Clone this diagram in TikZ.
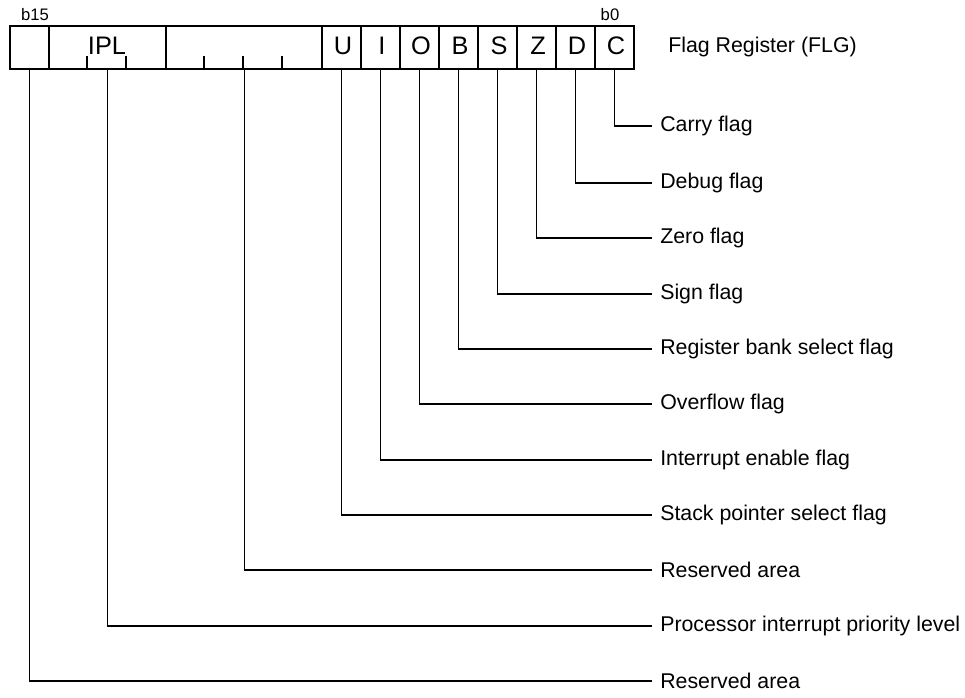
\documentclass[tikz,border=0pt]{standalone}
\usepackage{fontspec}
\setmainfont{Liberation Sans}

\tikzset{
  regcell/.style={draw, line width=1.6pt, anchor=north west, inner sep=0pt,
    minimum height=32.25pt},
  celltxt/.style={inner sep=0pt, font=\fontsize{19}{21}\selectfont},
  flagtxt/.style={anchor=west, inner xsep=6pt, inner ysep=0pt,
    font=\fontsize{16}{18}\selectfont},
  bitno/.style={inner sep=0pt, font=\fontsize{12.5}{14}\selectfont},
  leader/.style={line width=0.8pt}
}

\begin{document}
\begin{tikzpicture}[x=0.75pt,y=-0.75pt]
  \useasboundingbox (0,0) rectangle (965,697);

  % register fields
  \node[regcell, minimum width=29.25pt] (r15) at (9,25) {};
  \node[regcell, minimum width=87.75pt] (ipl) at (48,25) {};
  \node[celltxt] (ipltxt) at (107,46) {IPL};
  \node[regcell, minimum width=117pt] (r8) at (165,25) {};
  \foreach \lbl [count=\k from 8] in {U,I,O,B,S,Z,D,C}
  {
    \node[regcell, minimum width=29.25pt] (f\lbl) at ({9+\k*39},25) {};
    \node[celltxt] (t\lbl) at ({31+\k*39},46) {\lbl};
  }

  % bit boundaries inside the multi-bit fields
  \foreach \k in {2,3,5,6,7}
    \draw[line width=0.8pt] ({9+\k*39},68) -- ({9+\k*39},56);

  \node[bitno] (b15) at (35,15) {b15};
  \node[bitno] (b0) at (610,15) {b0};
  \node[flagtxt, inner xsep=0pt] (title) at (668,47) {Flag Register (FLG)};

  % flag descriptions
  \foreach \name/\txt/\yy in {fC/Carry flag/126, fD/Debug flag/183,
      fZ/Zero flag/238, fS/Sign flag/294, fB/Register bank select flag/349,
      fO/Overflow flag/404, fI/Interrupt enable flag/460,
      fU/Stack pointer select flag/515, r8/Reserved area/570,
      ipl/Processor interrupt priority level/626, r15/Reserved area/681}
  {
    \node[flagtxt] (l\name) at (652,\yy) {\txt};
    \draw[leader] (\name.south) |- (l\name.west);
  }
\end{tikzpicture}
\end{document}
